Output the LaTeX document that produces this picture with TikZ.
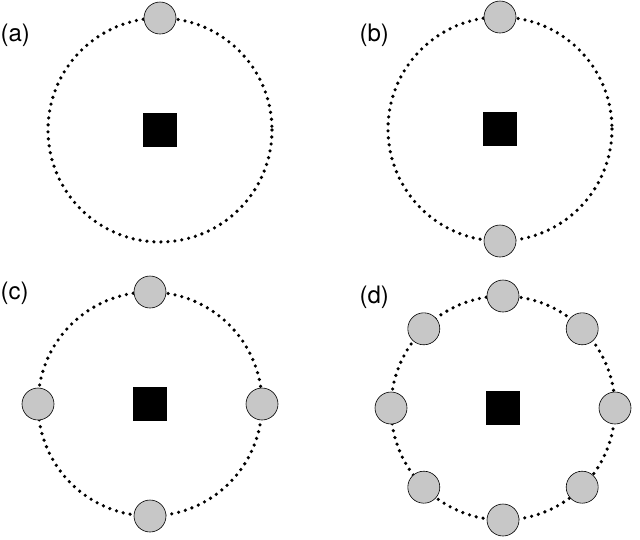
\documentclass[tikz,border=0pt]{standalone}
\usepackage{fontspec}
\setmainfont{TeX Gyre Heros}
\begin{document}
\begin{tikzpicture}[x=1pt,y=-1pt,
  orbit/.style={line width=3.6pt,line cap=round,dash pattern=on 0pt off 7pt,black},
  sat/.style={circle,draw=black,line width=0.6pt,fill=black!22,minimum size=32pt,inner sep=0pt},
  core/.style={rectangle,fill=black,minimum size=34pt,inner sep=0pt},
  lab/.style={font=\fontsize{24}{26}\selectfont,anchor=west}]
\useasboundingbox (0,0) rectangle (640,539);
% (a)
\node[lab] (la) at (-3,35) {(a)};
\draw[orbit] (160,130) circle (112);
\node[core] (ca) at (160,130) {};
\node[sat] (a1) at (160,18) {};
% (b)
\node[lab] (lb) at (356,35) {(b)};
\draw[orbit] (500,129) circle (112);
\node[core] (cb) at (500,129) {};
\node[sat] (b1) at (500,17) {};
\node[sat] (b2) at (500,241) {};
% (c)
\node[lab] (lc) at (-3,293) {(c)};
\draw[orbit] (150,404) circle (112);
\node[core] (cc) at (150,404) {};
\node[sat] (c1) at (150,292) {};
\node[sat] (c2) at (150,516) {};
\node[sat] (c3) at (38,404) {};
\node[sat] (c4) at (262,404) {};
% (d)
\node[lab] (ld) at (356,297) {(d)};
\draw[orbit] (503,408) circle (112);
\node[core] (cd) at (503,408) {};
\foreach \a [count=\i] in {90,45,0,-45,-90,-135,180,135}
  \node[sat] (d\i) at ([shift={(503,408)}]\a:112) {};
\end{tikzpicture}
\end{document}
